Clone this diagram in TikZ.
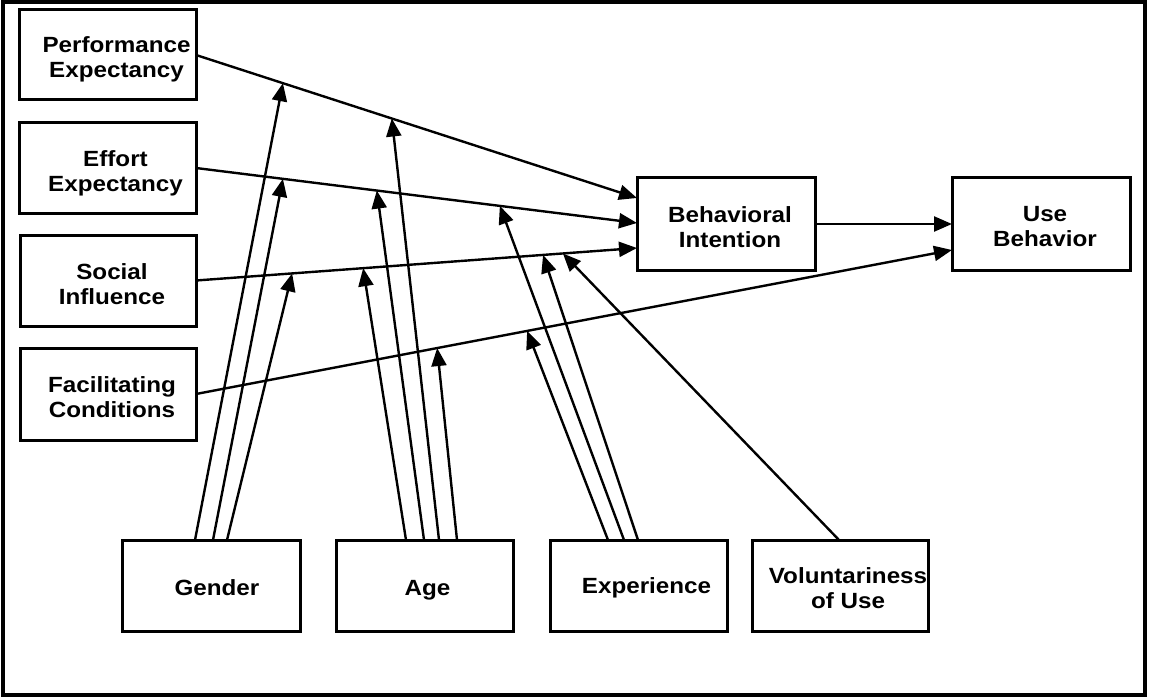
\documentclass[tikz,border=0pt]{standalone}
\usepackage{fontspec}
\setmainfont{Liberation Sans}[FakeStretch=1.1]
\usetikzlibrary{arrows.meta,calc}
\begin{document}
\begin{tikzpicture}[x=1pt,y=-1pt,
  box/.style={draw, line width=3pt, inner sep=0pt, outer sep=0pt},
  lbl/.style={align=center, inner sep=0pt, font=\bfseries\fontsize{22}{25}\selectfont},
  arr/.style={line width=2.4pt, -{Triangle[length=18pt,width=15pt]}}]
\useasboundingbox (0,0) rectangle (1149,698);
\draw[line width=4pt] (3,2) rectangle (1145,695);
% left predictor boxes
\node[box, minimum width=177pt, minimum height=90pt] (pe) at (107.5,55) {};
\node[box, minimum width=177pt, minimum height=90pt] (ee) at (107.5,168) {};
\node[box, minimum width=176pt, minimum height=91pt] (si) at (108,280.5) {};
\node[box, minimum width=176pt, minimum height=92pt] (fc) at (108,394) {};
\node[lbl] (pet) at ($(pe.center)+(9,4)$) {Performance\\Expectancy};
\node[lbl] (eet) at ($(ee.center)+(8,5)$) {Effort\\Expectancy};
\node[lbl] (sit) at ($(si.center)+(4,3.5)$) {Social\\Influence};
\node[lbl] (fct) at ($(fc.center)+(4,3)$) {Facilitating\\Conditions};
% outcome boxes
\node[box, minimum width=178pt, minimum height=92pt] (bi) at (726,224) {};
\node[box, minimum width=178pt, minimum height=92pt] (ub) at (1041,224) {};
\node[lbl] (bit) at ($(bi.center)+(4,3)$) {Behavioral\\Intention};
\node[lbl] (ubt) at ($(ub.center)+(4,3)$) {Use\\Behavior};
% moderator boxes
\node[box, minimum width=178pt, minimum height=91pt] (gen) at (211,585.5) {};
\node[box, minimum width=177pt, minimum height=91pt] (age) at (424.5,585.5) {};
\node[box, minimum width=177pt, minimum height=91pt] (exp) at (638.5,585.5) {};
\node[box, minimum width=176pt, minimum height=91pt] (vol) at (840,585.5) {};
\node[lbl] (gent) at ($(gen.center)+(6,2)$) {Gender};
\node[lbl] (aget) at ($(age.center)+(3,5)$) {Age};
\node[lbl] (expt) at ($(exp.center)+(8,2)$) {Experience};
\node[lbl] (volt) at ($(vol.center)+(8,3)$) {Voluntariness\\of Use};
% end points on target boxes
\coordinate (bi1) at ($(bi.west)+(0,-26)$);
\coordinate (bi2) at ($(bi.west)+(0,-1)$);
\coordinate (bi3) at ($(bi.west)+(0,24)$);
\coordinate (ub1) at ($(ub.west)+(0,26)$);
% main paths
\draw[arr] (pe.east) -- (bi1)
  coordinate[pos=0.197] (pe1) coordinate[pos=0.444] (pe2);
\draw[arr] (ee.east) -- (bi2)
  coordinate[pos=0.197] (ee1) coordinate[pos=0.41] (ee2) coordinate[pos=0.689] (ee3);
\draw[arr] (si.east) -- (bi3)
  coordinate[pos=0.218] (si1) coordinate[pos=0.379] (si2) coordinate[pos=0.787] (si3) coordinate[pos=0.832] (si4);
\draw[arr] (fc.east) -- (ub1)
  coordinate[pos=0.319] (fc1) coordinate[pos=0.438] (fc2);
\draw[arr] (bi.east) -- (ub.west);
% moderator starts
\coordinate (g1) at ($(gen.north)+(-16,0)$);
\coordinate (g2) at ($(gen.north)+(2,0)$);
\coordinate (g3) at ($(gen.north)+(16,0)$);
\coordinate (a1) at ($(age.north)+(-18.5,0)$);
\coordinate (a2) at ($(age.north)+(-0.5,0)$);
\coordinate (a3) at ($(age.north)+(14.5,0)$);
\coordinate (a4) at ($(age.north)+(32.5,0)$);
\coordinate (x1) at ($(exp.north)+(-30.5,0)$);
\coordinate (x2) at ($(exp.north)+(-14.5,0)$);
\coordinate (x3) at ($(exp.north)+(-0.5,0)$);
\coordinate (v1) at ($(vol.north)+(-1,0)$);
% moderator arrows
\draw[arr] (g1) -- (pe1);
\draw[arr] (g2) -- (ee1);
\draw[arr] (g3) -- (si1);
\draw[arr] (a1) -- (si2);
\draw[arr] (a2) -- (ee2);
\draw[arr] (a3) -- (pe2);
\draw[arr] (a4) -- (fc1);
\draw[arr] (x1) -- (fc2);
\draw[arr] (x2) -- (ee3);
\draw[arr] (x3) -- (si3);
\draw[arr] (v1) -- (si4);
\end{tikzpicture}
\end{document}
